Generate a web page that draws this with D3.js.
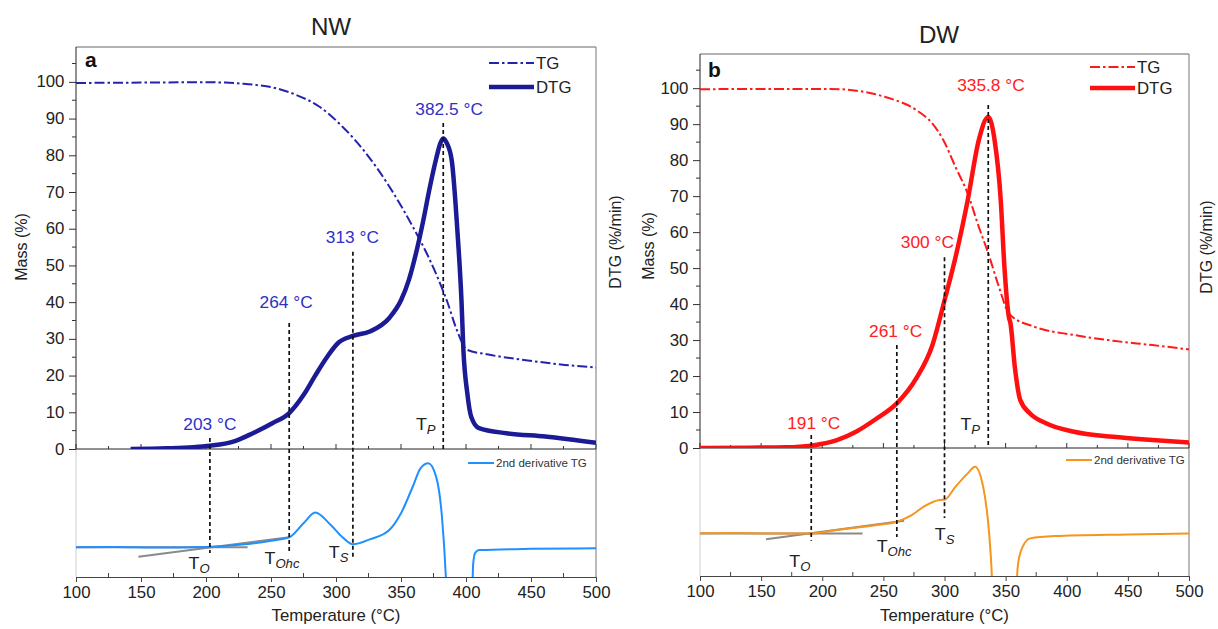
<!DOCTYPE html>
<html><head><meta charset="utf-8">
<script src="https://cdn.jsdelivr.net/npm/d3@7"></script>
<style>body{margin:0;background:#fff} text{font-family:"Liberation Sans",Arial,sans-serif}</style>
</head><body><svg id="c" width="1218" height="629"></svg>
<script>
// ---------------- DATA ----------------
const tempTicks = [100,150,200,250,300,350,400,450,500];
const massTicks = [0,10,20,30,40,50,60,70,80,90,100];
const panelTitles = ["NW","DW"];
const panelLetters = ["a","b"];

// NW (left)
const nwTG = [[100,99.7],[150,99.8],[200,99.9],[215,99.8],[228,99.5],[240,99.1],[251,98.5],[269,96.5],[287,93.3],[305,87.8],[323,80.6],[341,71.5],[359,60.6],[371,52.4],[383,42.5],[386,39.7],[392,33.3],[401,27],[416,25.8],[446,24.2],[476,22.9],[500,22.2]];
const nwDTG = [[142,0],[170,0.2],[190,0.5],[203,0.9],[221,2],[236,4.3],[251,7],[264,9.8],[275,14.7],[284,20],[293,25],[302,29],[313,30.8],[326,32],[341,35.7],[350,40.5],[356,46],[362,54],[367,62],[372,71],[377,79],[380.5,83.5],[382.5,84.6],[385,83.5],[389,78.7],[393.5,58.8],[396.5,40.6],[398,27],[401,15.2],[404,8.8],[410,5.7],[431,4.3],[461,3.4],[500,1.7]];
const nwD2 = [[100,23.2],[130,23.4],[160,23],[200,23.4],[230,25.5],[250,28.4],[264,31],[275,42],[284,50.3],[296,40.6],[305,31],[313,25.5],[326,29.4],[341,36.7],[350,49.8],[359,70.5],[365,84.9],[371,88.8],[377,78.4],[381.5,47],[384.5,0],[386,-40],[404,-40],[405.5,10],[407,18.7],[410,21],[450,22],[500,22.4]];
const nwTangents = [[[100,23.2],[232,23.2]],[[148,15.9],[264,31]]];
const nwMarkers = [203,264,313,382.5];
const nwMarkTop = [3,34.3,53.7,88.8];      // mass units
const nwMarkBottom = [18.75,19.5,15.6,100]; // lower-panel units
const nwLabelT = [203,261.6,312.6,387];
const nwLabelMass = [5.2,38.4,56.1,91];

// DW (right)
const dwTG = [[100,99.7],[150,99.8],[200,99.8],[215,99.7],[228,99.3],[240,98.6],[251,97.6],[277,93.9],[290,90.2],[299,85.6],[309,78.1],[319,70.7],[328,61.5],[335.8,54.1],[344.5,44.8],[352.6,37.4],[354,36.9],[373.5,33.7],[406,31.4],[438,29.8],[470,28.6],[500,27.4]];
const dwDTG = [[100,0],[140,0.1],[170,0.2],[191,0.65],[199,1.1],[212,2.2],[228,4.6],[244.5,8.2],[261,12.4],[277,19.4],[290,28.5],[300,41],[309,53],[319,68.9],[328,85.5],[335.8,92],[341,85.5],[346,68.9],[349,50.4],[352.6,36.5],[354,34.6],[357.5,22.6],[362,13.3],[370,9.6],[383,6.9],[406,4.5],[438,3.1],[470,2.2],[500,1.5]];
const dwD2 = [[100,33.3],[130,33.5],[160,33.2],[191,33.3],[212,35.9],[244.5,39.8],[261,42.4],[273.5,47.7],[283,54.2],[296,59.4],[300,59.6],[309,69.8],[319,80.2],[325,85.4],[331.6,69.8],[336.5,33.3],[338.5,5],[340,-30],[358,-30],[359.7,5],[362,18],[364,22.9],[370,29.4],[390,31.2],[450,32.5],[500,33.3]];
const dwTangents = [[[100,33.3],[233,33.3]],[[154,28.7],[267,43.2]]];
const dwMarkers = [191,261,300,335.8];
const dwMarkTop = [3.6,28.6,53,95.3];
const dwMarkBottom = [27.6,30.5,45.3,100];
const dwLabelT = [193,260,286,338];
const dwLabelMass = [5.3,30.8,55.6,99.2];

// subscript labels: [main, sub, T-start, value, inLower]
const nwSubLabels = [["T","P",361.5,5.2,false],["T","O",186.6,6.25,true],["T","Ohc",245,10,true],["T","S",294.5,14.8,true]];
const dwSubLabels = [["T","P",313,5,false],["T","O",173,7,true],["T","Ohc",244.5,18.75,true],["T","S",292,28,true]];

// ---------------- LAYOUT ----------------
const SX = 1.05;
const svg = d3.select("#c");
const panels = [
  {x0:76,x1:596,top:47,mid:449,bot:577, title:[331,35], letter:[85,67], massLab:[21,247], dtgLab:[615,242],
   dark:"#1b1b96", tgc:"#2323b0", ann:"#3030c8", d2c:"#1e90ff", legX:489, legY:[63,87], leg2:[468,463],
   TG:nwTG, DTG:nwDTG, D2:nwD2, tang:nwTangents, mk:nwMarkers, mkTop:nwMarkTop, mkBot:nwMarkBottom, lT:nwLabelT, lM:nwLabelMass, sub:nwSubLabels},
  {x0:700,x1:1189,top:54,mid:448,bot:576, title:[939,43], letter:[708,77], massLab:[648,246], dtgLab:[1206,247],
   dark:"#ff1010", tgc:"#ff1a1a", ann:"#ff2020", d2c:"#f7941d", legX:1090, legY:[67,88], leg2:[1066,460],
   TG:dwTG, DTG:dwDTG, D2:dwD2, tang:dwTangents, mk:dwMarkers, mkTop:dwMarkTop, mkBot:dwMarkBottom, lT:dwLabelT, lM:dwLabelMass, sub:dwSubLabels}
];

function txt(g, x, y, s, size, opts={}) {
  const t = g.append("text").attr("transform", `translate(${x},${y}) scale(${SX},1)`)
    .attr("font-size", size).attr("fill", opts.fill||"#222")
    .attr("text-anchor", opts.anchor||"middle");
  if (opts.weight) t.attr("font-weight", opts.weight);
  t.text(s);
  return t;
}

panels.forEach((p, i) => {
  const g = svg.append("g");
  const x = d3.scaleLinear().domain([100,500]).range([p.x0,p.x1]);
  const y = d3.scaleLinear().domain([0,109.5]).range([p.mid,p.top]);
  const y2 = d3.scaleLinear().domain([0,100]).range([p.bot,p.mid]);

  const clipId = "clip"+i, clip2 = "clipb"+i;
  svg.append("clipPath").attr("id",clipId).append("rect").attr("x",p.x0).attr("y",p.top).attr("width",p.x1-p.x0).attr("height",p.mid-p.top);
  svg.append("clipPath").attr("id",clip2).append("rect").attr("x",p.x0).attr("y",p.mid).attr("width",p.x1-p.x0).attr("height",p.bot-p.mid);

  // frame
  g.append("line").attr("x1",p.x0).attr("x2",p.x1).attr("y1",p.top).attr("y2",p.top).attr("stroke","#666");
  g.append("line").attr("x1",p.x1).attr("x2",p.x1).attr("y1",p.top).attr("y2",p.bot).attr("stroke","#777");
  g.append("line").attr("x1",p.x0).attr("x2",p.x0).attr("y1",p.mid).attr("y2",p.bot).attr("stroke","#ccc");

  // y axis (mass)
  const ya = g.append("g").attr("transform",`translate(${p.x0},0)`)
    .call(d3.axisLeft(y).tickValues(massTicks).tickSize(7).tickPadding(4).tickSizeOuter(0));
  ya.select(".domain").remove();
  ya.append("line").attr("y1",p.top).attr("y2",p.mid).attr("stroke","#222");
  ya.selectAll(".tick line").attr("stroke","#333");
  ya.selectAll(".tick text").attr("font-size",16).attr("fill","#222").attr("font-family","Liberation Sans, Arial, sans-serif")
    .attr("transform",`scale(${SX},1)`);
  const yMinor = d3.range(5,110,10);
  g.selectAll(null).data(yMinor).enter().append("line")
    .attr("x1",p.x0-4).attr("x2",p.x0).attr("y1",d=>y(d)).attr("y2",d=>y(d)).attr("stroke","#333");

  // divider (0 line) with upward ticks
  g.append("line").attr("x1",p.x0).attr("x2",p.x1).attr("y1",p.mid).attr("y2",p.mid).attr("stroke","#222").attr("stroke-width",1.2);
  const allX = d3.range(100,501,25);
  g.selectAll(null).data(allX).enter().append("line")
    .attr("x1",d=>x(d)).attr("x2",d=>x(d)).attr("y1",p.mid).attr("y2",d=>p.mid-(d%50===0?5:3)).attr("stroke","#333");

  // bottom axis
  const xa = g.append("g").attr("transform",`translate(0,${p.bot})`)
    .call(d3.axisBottom(x).tickValues(tempTicks).tickSize(5).tickPadding(5).tickSizeOuter(0));
  xa.select(".domain").attr("stroke","#444");
  xa.selectAll(".tick line").attr("stroke","#444");
  xa.selectAll(".tick text").attr("font-size",16).attr("fill","#222").attr("font-family","Liberation Sans, Arial, sans-serif")
    .attr("transform",`scale(${SX},1)`);
  g.selectAll(null).data(d3.range(125,500,50)).enter().append("line")
    .attr("x1",d=>x(d)).attr("x2",d=>x(d)).attr("y1",p.bot).attr("y2",p.bot-4).attr("stroke","#444");

  // titles
  txt(g, p.title[0], p.title[1], panelTitles[i], 23);
  txt(g, p.letter[0], p.letter[1], panelLetters[i], 20, {anchor:"start", weight:"bold", fill:"#111"});
  txt(g, (p.x0+p.x1)/2, 621, "Temperature (°C)", 16);
  g.append("text").attr("transform",`translate(${p.massLab[0]},${p.massLab[1]}) rotate(-90)`)
    .attr("text-anchor","middle").attr("dy","0.35em").attr("font-size",16).attr("fill","#222").text("Mass (%)");
  g.append("text").attr("transform",`translate(${p.dtgLab[0]},${p.dtgLab[1]}) rotate(-90)`)
    .attr("text-anchor","middle").attr("dy","0.35em").attr("font-size",16).attr("fill","#222").text("DTG (%/min)");

  // curves
  const line = d3.line().x(d=>x(d[0])).y(d=>y(d[1])).curve(d3.curveMonotoneX);
  const line2 = d3.line().x(d=>x(d[0])).y(d=>y2(d[1])).curve(d3.curveMonotoneX);
  const lineS = d3.line().x(d=>x(d[0])).y(d=>y2(d[1]));

  // tangents
  p.tang.forEach(t => g.append("path").attr("d",lineS(t)).attr("stroke","#8a8a8a").attr("stroke-width",2).attr("fill","none"));
  g.append("path").attr("d",line2(p.D2)).attr("clip-path",`url(#${clip2})`)
    .attr("stroke",p.d2c).attr("stroke-width",2).attr("fill","none");

  g.append("path").attr("d",line(p.TG)).attr("clip-path",`url(#${clipId})`)
    .attr("stroke",p.tgc).attr("stroke-width",2).attr("fill","none").attr("stroke-dasharray","10,3,2.5,3");
  g.append("path").attr("d",line(p.DTG)).attr("clip-path",`url(#${clipId})`)
    .attr("stroke",p.dark).attr("stroke-width",4.5).attr("fill","none").attr("stroke-linejoin","round");

  // markers
  p.mk.forEach((m, k) => {
    g.append("line").attr("x1",x(m)).attr("x2",x(m)).attr("y1",y(p.mkTop[k])).attr("y2",y2(p.mkBot[k]))
      .attr("stroke","#111").attr("stroke-width",1.7).attr("stroke-dasharray","4,3");
    txt(g, x(p.lT[k]), y(p.lM[k]), `${m} °C`, 16.5, {fill:p.ann});
  });
  // subscript labels
  p.sub.forEach(s => {
    const yy = s[4] ? y2(s[3]) : y(s[3]);
    const t = g.append("text").attr("transform",`translate(${x(s[2])},${yy}) scale(${SX},1)`)
      .attr("font-size",17).attr("fill","#222");
    t.append("tspan").text(s[0]);
    t.append("tspan").attr("font-size",12.5).attr("font-style","italic").attr("dy",4).text(s[1]);
  });

  // legend upper
  g.append("line").attr("x1",p.legX).attr("x2",p.legX+45).attr("y1",p.legY[0]).attr("y2",p.legY[0])
    .attr("stroke",p.tgc).attr("stroke-width",2).attr("stroke-dasharray","10,3,2.5,3");
  g.append("line").attr("x1",p.legX).attr("x2",p.legX+45).attr("y1",p.legY[1]).attr("y2",p.legY[1])
    .attr("stroke",p.dark).attr("stroke-width",4.5);
  txt(g, p.legX+47, p.legY[0]+6, "TG", 16, {anchor:"start"});
  txt(g, p.legX+47, p.legY[1]+6, "DTG", 16, {anchor:"start"});
  // legend lower
  g.append("line").attr("x1",p.leg2[0]).attr("x2",p.leg2[0]+26).attr("y1",p.leg2[1]).attr("y2",p.leg2[1])
    .attr("stroke",p.d2c).attr("stroke-width",2);
  txt(g, p.leg2[0]+28, p.leg2[1]+4, "2nd derivative TG", 11, {anchor:"start", fill:"#333"});
});
</script></body></html>
